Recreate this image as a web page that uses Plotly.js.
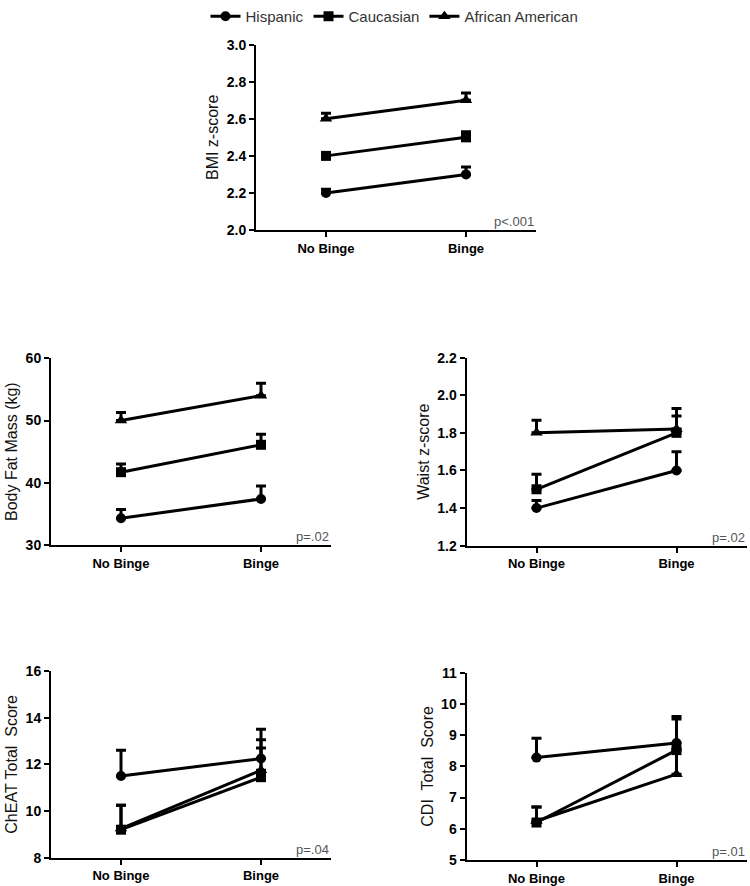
<!DOCTYPE html>
<html>
<head>
<meta charset="utf-8">
<script src="https://cdn.plot.ly/plotly-3.0.1.min.js"></script>
<style>html,body{margin:0;padding:0;background:#fff;}#chart{width:750px;height:886px;}</style>
</head>
<body>
<div id="chart"></div>
<script>
const categories = ['No Binge', 'Binge'];
const groups = ['Hispanic', 'Caucasian', 'African American'];

// BMI z-score
const bmiHispanic = [2.2, 2.3];
const bmiHispanicErr = [0.02, 0.04];
const bmiCaucasian = [2.4, 2.5];
const bmiCaucasianErr = [0.01, 0.03];
const bmiAfrican = [2.6, 2.7];
const bmiAfricanErr = [0.03, 0.04];

// Body Fat Mass (kg)
const fatHispanic = [34.3, 37.4];
const fatHispanicErr = [1.4, 2.1];
const fatCaucasian = [41.7, 46.1];
const fatCaucasianErr = [1.3, 1.7];
const fatAfrican = [50.0, 54.0];
const fatAfricanErr = [1.3, 2.0];

// Waist z-score
const waistHispanic = [1.4, 1.6];
const waistHispanicErr = [0.04, 0.1];
const waistCaucasian = [1.5, 1.8];
const waistCaucasianErr = [0.08, 0.09];
const waistAfrican = [1.8, 1.82];
const waistAfricanErr = [0.067, 0.11];

// ChEAT Total Score
const cheatHispanic = [11.5, 12.25];
const cheatHispanicErr = [1.1, 1.25];
const cheatCaucasian = [9.2, 11.45];
const cheatCaucasianErr = [1.05, 1.25];
const cheatAfrican = [9.25, 11.75];
const cheatAfricanErr = [1.0, 1.3];

// CDI Total Score
const cdiHispanic = [8.28, 8.75];
const cdiHispanicErr = [0.62, 0.85];
const cdiCaucasian = [6.2, 8.52];
const cdiCaucasianErr = [0.5, 1.0];
const cdiAfrican = [6.25, 7.75];
const cdiAfricanErr = [0.45, 0.8];

const panels = [
  {ax: '', title: 'BMI z-score', p: 'p<.001', tickvals: [2.0, 2.2, 2.4, 2.6, 2.8, 3.0], range: [2.0, 3.0], fmt: '.1f',
   series: [[bmiHispanic, bmiHispanicErr], [bmiCaucasian, bmiCaucasianErr], [bmiAfrican, bmiAfricanErr]],
   xd: [256, 536], yd: [44.7, 230]},
  {ax: '2', title: 'Body Fat Mass (kg)', p: 'p=.02', tickvals: [30, 40, 50, 60], range: [30, 60], fmt: '',
   series: [[fatHispanic, fatHispanicErr], [fatCaucasian, fatCaucasianErr], [fatAfrican, fatAfricanErr]],
   xd: [51, 331], yd: [358.3, 545]},
  {ax: '3', title: 'Waist z-score', p: 'p=.02', tickvals: [1.2, 1.4, 1.6, 1.8, 2.0, 2.2], range: [1.2, 2.2], fmt: '.1f',
   series: [[waistHispanic, waistHispanicErr], [waistCaucasian, waistCaucasianErr], [waistAfrican, waistAfricanErr]],
   xd: [466.5, 746.5], yd: [357.6, 545.7]},
  {ax: '4', title: 'ChEAT Total\u00a0 Score', p: 'p=.04', tickvals: [8, 10, 12, 14, 16], range: [8, 16], fmt: '',
   series: [[cheatHispanic, cheatHispanicErr], [cheatCaucasian, cheatCaucasianErr], [cheatAfrican, cheatAfricanErr]],
   xd: [51, 331], yd: [671, 857.7]},
  {ax: '5', title: 'CDI\u00a0 Total\u00a0 Score', p: 'p=.01', tickvals: [5, 6, 7, 8, 9, 10, 11], range: [5, 11], fmt: '',
   series: [[cdiHispanic, cdiHispanicErr], [cdiCaucasian, cdiCaucasianErr], [cdiAfrican, cdiAfricanErr]],
   xd: [466.5, 746.5], yd: [672.7, 860]}
];

const symbols = ['circle', 'square', 'triangle-up'];
const W = 750, H = 886;
const FONT = 'Liberation Sans, Arial, sans-serif';

const data = [];
const layout = {
  width: W, height: H,
  margin: {l: 0, r: 0, t: 0, b: 0},
  paper_bgcolor: '#fff', plot_bgcolor: 'rgba(0,0,0,0)',
  font: {family: FONT, color: '#000'},
  showlegend: true,
  legend: {orientation: 'h', x: 0.526, xanchor: 'center', y: 1.0, yanchor: 'top',
           font: {size: 15, color: '#333', family: FONT}, itemwidth: 30, tracegroupgap: 0},
  annotations: []
};

panels.forEach((pn, pi) => {
  pn.series.forEach((s, si) => {
    data.push({
      x: categories, y: s[0],
      xaxis: 'x' + pn.ax, yaxis: 'y' + pn.ax,
      type: 'scatter', mode: 'lines+markers',
      name: groups[si], showlegend: pi === 0, legendgroup: groups[si],
      line: {color: '#000', width: 3},
      marker: {symbol: symbols[si], size: si === 2 ? 11 : 10, color: '#000'},
      error_y: {type: 'data', symmetric: false, array: s[1], arrayminus: [0, 0],
                color: '#000', thickness: 3, width: 5},
      cliponaxis: false
    });
  });
  layout['xaxis' + pn.ax] = {
    domain: [pn.xd[0] / W, pn.xd[1] / W],
    anchor: 'y' + pn.ax,
    type: 'category', range: [-0.5, 1.5],
    showline: true, linecolor: '#000', linewidth: 2,
    ticks: 'outside', ticklen: 5, tickwidth: 2, tickcolor: '#000',
    showgrid: false, zeroline: false, fixedrange: true,
    tickfont: {size: 13, family: FONT, color: '#000', weight: 'bold'}
  };
  layout['yaxis' + pn.ax] = {
    domain: [(H - pn.yd[1]) / H, (H - pn.yd[0]) / H],
    anchor: 'x' + pn.ax,
    range: pn.range, tickvals: pn.tickvals, tickformat: pn.fmt,
    showline: true, linecolor: '#000', linewidth: 2,
    ticks: 'outside', ticklen: 5, tickwidth: 2, tickcolor: '#000',
    showgrid: false, zeroline: false, fixedrange: true,
    tickfont: {size: 14, family: FONT, color: '#000', weight: 'bold'},
    title: {text: pn.title, font: {size: 16, family: FONT, color: '#111'}, standoff: 4}
  };
  layout.annotations.push({
    text: pn.p, showarrow: false,
    xref: 'x' + pn.ax + ' domain', yref: 'y' + pn.ax + ' domain',
    x: 1, y: -0.005, xanchor: 'right', yanchor: 'bottom',
    font: {size: 13, family: FONT, color: '#555'}
  });
});

Plotly.newPlot('chart', data, layout, {displayModeBar: false, staticPlot: true});
</script>
</body>
</html>
